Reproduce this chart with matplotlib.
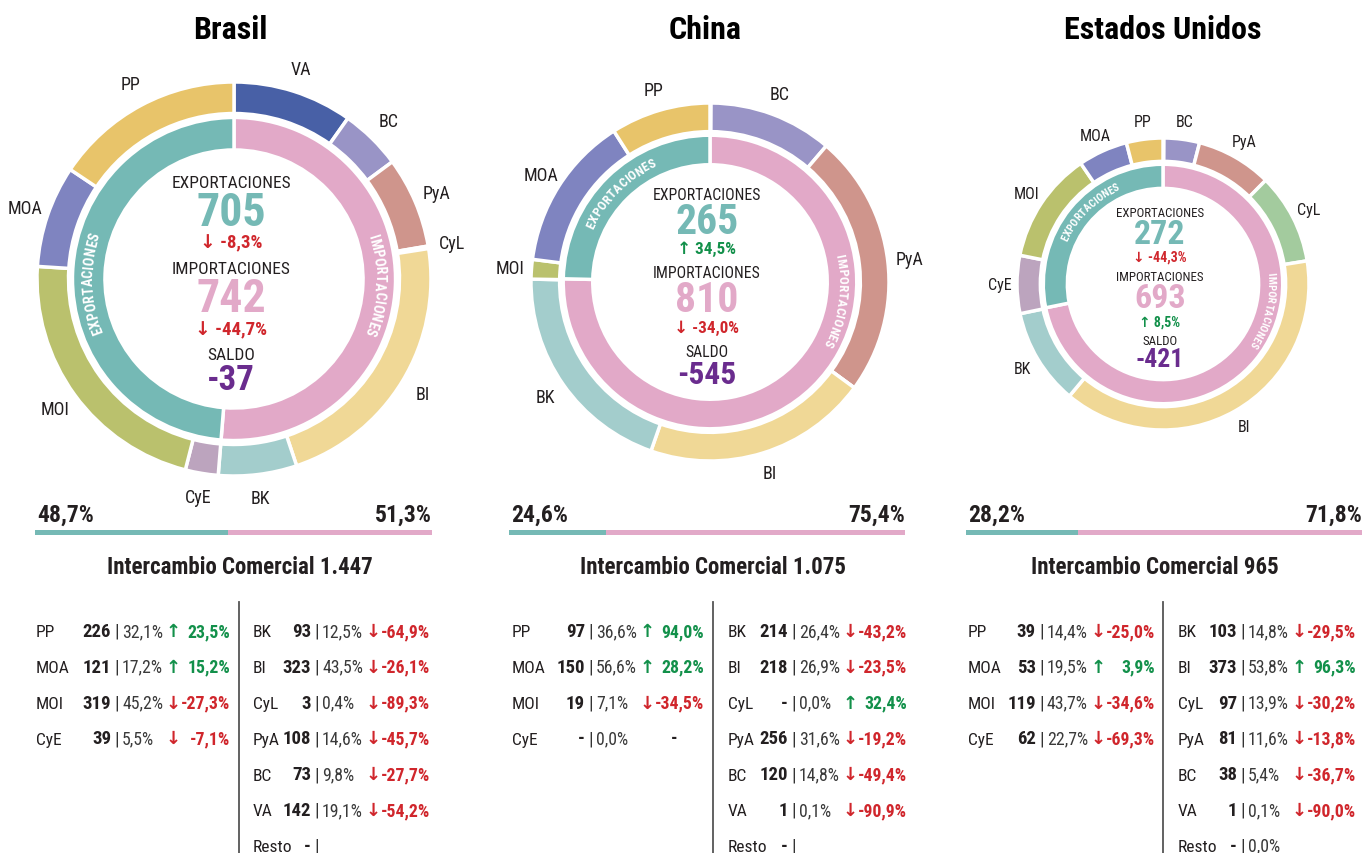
import matplotlib
matplotlib.use('Agg')
import matplotlib.pyplot as plt
from matplotlib import font_manager as fm
from matplotlib.font_manager import FontProperties
from matplotlib.textpath import text_to_path
import numpy as np

# ---------------- data ----------------
countries = ['Brasil', 'China', 'Estados Unidos']
exp_total = [705, 265, 272]
imp_total = [742, 810, 693]
exp_change = [-8.3, 34.5, -44.3]
imp_change = [-44.7, -34.0, 8.5]
saldo = [-37, -545, -421]
exp_share = [48.7, 24.6, 28.2]
imp_share = [51.3, 75.4, 71.8]
intercambio = ['1.447', '1.075', '965']

exp_cats = ['PP', 'MOA', 'MOI', 'CyE']
imp_cats = ['BK', 'BI', 'CyL', 'PyA', 'BC', 'VA', 'Resto']

NA = float('nan')   # shown as "-"
# Brasil
br_exp_val = [226, 121, 319, 39]
br_exp_pct = [32.1, 17.2, 45.2, 5.5]
br_exp_var = [23.5, 15.2, -27.3, -7.1]
br_imp_val = [93, 323, 3, 108, 73, 142, NA]
br_imp_pct = [12.5, 43.5, 0.4, 14.6, 9.8, 19.1, None]
br_imp_var = [-64.9, -26.1, -89.3, -45.7, -27.7, -54.2, None]
# China
cn_exp_val = [97, 150, 19, NA]
cn_exp_pct = [36.6, 56.6, 7.1, 0.0]
cn_exp_var = [94.0, 28.2, -34.5, NA]
cn_imp_val = [214, 218, NA, 256, 120, 1, NA]
cn_imp_pct = [26.4, 26.9, 0.0, 31.6, 14.8, 0.1, None]
cn_imp_var = [-43.2, -23.5, 32.4, -19.2, -49.4, -90.9, None]
# Estados Unidos
us_exp_val = [39, 53, 119, 62]
us_exp_pct = [14.4, 19.5, 43.7, 22.7]
us_exp_var = [-25.0, 3.9, -34.6, -69.3]
us_imp_val = [103, 373, 97, 81, 38, 1, NA]
us_imp_pct = [14.8, 53.8, 13.9, 11.6, 5.4, 0.1, 0.0]
us_imp_var = [-29.5, 96.3, -30.2, -13.8, -36.7, -90.0, None]

exp_vals = [br_exp_val, cn_exp_val, us_exp_val]
exp_pcts = [br_exp_pct, cn_exp_pct, us_exp_pct]
exp_vars = [br_exp_var, cn_exp_var, us_exp_var]
imp_vals = [br_imp_val, cn_imp_val, us_imp_val]
imp_pcts = [br_imp_pct, cn_imp_pct, us_imp_pct]
imp_vars = [br_imp_var, cn_imp_var, us_imp_var]

# ---------------- style ----------------
TEAL = '#75B9B5'
PINK = '#E2A9C8'
RED = '#D0262C'
GREEN = '#12904A'
PURPLE = '#6A2C8E'
DARK = '#231F20'
cat_colors = {'PP': '#E8C46A', 'MOA': '#7F84C0', 'MOI': '#BAC16D', 'CyE': '#BCA4BE',
              'VA': '#4860A6', 'BC': '#9994C6', 'PyA': '#CF958C', 'CyL': '#A3CB9E',
              'BI': '#F0D896', 'BK': '#A3CDCC'}

# pick a narrow font if one is installed
tt = fm.fontManager.ttflist


def has(name, st=None, bold=False):
    for f in tt:
        if f.name != name:
            continue
        if st is not None and f.stretch != st:
            continue
        if bold and not (str(f.weight) in ('bold', '700') or f.weight == 700):
            continue
        return True
    return False


MAIN, stretch, narrow = 'Roboto', 'normal', False
if has('Liberation Sans Narrow'):
    MAIN, narrow = 'Liberation Sans Narrow', True
elif has('Roboto Condensed'):
    MAIN, narrow = 'Roboto Condensed', True
elif has('DejaVu Sans Condensed'):
    MAIN, narrow = 'DejaVu Sans Condensed', True
else:
    for fam in ['Noto Sans', 'Open Sans', 'Roboto', 'DejaVu Sans', 'Lato', 'Inter']:
        if has(fam, 'condensed', bold=True):
            MAIN, stretch, narrow = fam, 'condensed', True
            break
plt.rcParams['font.family'] = [MAIN, 'DejaVu Sans']
plt.rcParams['font.stretch'] = stretch

W, H = 1365, 854


def Y(y):
    return H - y


def fmt(v):
    return f'{v:.1f}'.replace('.', ',')


# layout (pixels)
centers = [(234, 280), (710, 283), (1163, 285)]
radii = [197, 179, 146]
exp_txt_ang = [181.5, 135, 135]
imp_txt_ang = [-2, -8, -14]
title_x = [230, 705, 1163]
bar_x = [(35, 432), (509, 905), (966, 1362)]
inter_x = [240, 713, 1155]
tab_lx = [(36, 111), (512, 585), (968, 1036)]
tab_rx = [(253, 311), (728, 788), (1178, 1237)]
sep_x = [239, 713, 1163]

# font sizes (smaller when only a normal-width face is available)
k_w = 1.0 if narrow else 0.86
fs_lab = 12.5 * k_w
fs_val = 13.5 * k_w
fs_pct = 12.8 * (1.0 if narrow else 0.8)
fs_chg = 12.8 * (1.0 if narrow else 0.84)


def arc_text(ax, text, cx, cy, r, mid_deg, fs):
    fp = FontProperties(family=MAIN, stretch=stretch, size=fs, weight='bold')
    k = 100 / 72

    def wid(s):
        if not s:
            return 0.0
        return text_to_path.get_text_width_height_descent(s, fp, ismath=False)[0] * k

    track = 0.3
    total = wid(text) + track * (len(text) - 1)
    for i, ch in enumerate(text):
        s = wid(text[:i]) + wid(ch) / 2 + track * i
        ang = np.radians(mid_deg) + (total / 2 - s) / r
        ax.text(cx + r * np.cos(ang), cy + r * np.sin(ang), ch,
                rotation=np.degrees(ang) - 90, rotation_mode='anchor',
                ha='center', va='center', fontsize=fs, color='white',
                fontweight='bold')


def clean(v):
    return 0 if (v is None or np.isnan(v)) else v


def rows(ax, cats, vals, pcts, vars_, xl, xv, y0=632, dy=35.8):
    for j, cat in enumerate(cats):
        yy = Y(y0 + j * dy)
        ax.text(xl, yy - 1, cat, ha='left', va='center', fontsize=fs_lab, color=DARK)
        v = vals[j]
        vs = '-' if np.isnan(v) else f'{v:.0f}'
        ax.text(xv, yy, vs, ha='right', va='center', fontsize=fs_val,
                fontweight='bold', color=DARK)
        ax.text(xv + 6, yy, '|', ha='center', va='center', fontsize=14,
                color='#333333')
        p = pcts[j]
        if p is not None:
            ax.text(xv + 11, yy, fmt(p) + '%', ha='left', va='center',
                    fontsize=fs_pct, color='#3a3a3a')
        c = vars_[j]
        if c is None:
            continue
        if np.isnan(c):
            ax.text(xv + 89, yy, '-', ha='center', va='center', fontsize=fs_chg,
                    fontweight='bold', color=DARK)
            continue
        col = GREEN if c > 0 else RED
        ax.text(xv + 55, yy, '↑' if c > 0 else '↓', ha='left', va='center',
                fontsize=13, fontweight='bold', color=col,
                family=['DejaVu Sans'])
        ax.text(xv + 119, yy, fmt(c) + '%', ha='right', va='center',
                fontsize=fs_chg, fontweight='bold', color=col)


fig = plt.figure(figsize=(W / 100, H / 100), dpi=100)
ax = fig.add_axes([0, 0, 1, 1])

for i in range(3):
    cx, cy = centers[i][0], Y(centers[i][1])
    r = radii[i]
    s = r / 197

    # outer ring: imports (VA..BK) then exports (CyE..PP), clockwise from top
    imp_order = imp_cats[:6][::-1]
    imp_v = [clean(v) for v in imp_vals[i][:6]][::-1]
    exp_order = exp_cats[::-1]
    exp_v = [clean(v) for v in exp_vals[i]][::-1]
    cats = imp_order + exp_order
    vals = imp_v + exp_v
    labels = [c if v >= 2 else '' for c, v in zip(cats, vals)]
    _, texts = ax.pie(vals, radius=r, center=(cx, cy), startangle=90, counterclock=False,
                      colors=[cat_colors[c] for c in cats], labels=labels,
                      labeldistance=1.12,
                      wedgeprops=dict(width=r * 0.16, edgecolor='white', linewidth=2.5),
                      textprops=dict(fontsize=(13 if i < 2 else 11.5) * k_w, color=DARK))
    for t in texts:
        t.set_ha('center')

    # inner ring
    ax.pie([imp_total[i], exp_total[i]], radius=r * 0.82, center=(cx, cy), startangle=90,
           counterclock=False, colors=[PINK, TEAL],
           wedgeprops=dict(width=r * 0.165, edgecolor='white', linewidth=2.5))
    rm = r * (0.82 - 0.0825)
    afs = (9.8 * s + 0.4) * (1.0 if narrow else 0.9)
    arc_text(ax, 'EXPORTACIONES', cx, cy, rm, exp_txt_ang[i], afs)
    arc_text(ax, 'IMPORTACIONES', cx, cy, rm, imp_txt_ang[i], afs)

    # centre texts
    offs = np.array([-96, -67, -37, -10, 19, 50, 76, 101]) * s
    tx = cx - 3
    ax.text(tx, cy - offs[0], 'EXPORTACIONES', ha='center', va='center',
            fontsize=12.5 * s * k_w, color=DARK)
    ax.text(tx, cy - offs[1], str(exp_total[i]), ha='center', va='center',
            fontsize=33 * s, fontweight='bold', color=TEAL)
    c = exp_change[i]
    ax.text(tx, cy - offs[2], ('↑ ' if c > 0 else '↓ ') + fmt(c) + '%', ha='center',
            va='center', fontsize=13.5 * s, fontweight='bold',
            color=GREEN if c > 0 else RED)
    ax.text(tx, cy - offs[3], 'IMPORTACIONES', ha='center', va='center',
            fontsize=12.5 * s * k_w, color=DARK)
    ax.text(tx, cy - offs[4], str(imp_total[i]), ha='center', va='center',
            fontsize=33 * s, fontweight='bold', color=PINK)
    c = imp_change[i]
    ax.text(tx, cy - offs[5], ('↑ ' if c > 0 else '↓ ') + fmt(c) + '%', ha='center',
            va='center', fontsize=13.5 * s, fontweight='bold',
            color=GREEN if c > 0 else RED)
    ax.text(tx, cy - offs[6], 'SALDO', ha='center', va='center',
            fontsize=12.5 * s * k_w, color=DARK)
    ax.text(tx, cy - offs[7], str(saldo[i]), ha='center', va='center',
            fontsize=25 * s, fontweight='bold', color=PURPLE)

    # title
    ax.text(title_x[i], Y(30), countries[i], ha='center', va='center',
            fontsize=23, fontweight='bold', color='black')

    # share bar
    x0, x1 = bar_x[i]
    L = x1 - x0
    ax.barh(Y(533), exp_share[i] / 100 * L, left=x0, height=5, color=TEAL)
    ax.barh(Y(533), imp_share[i] / 100 * L, left=x0 + exp_share[i] / 100 * L,
            height=5, color=PINK)
    ax.text(x0 + 2, Y(515), fmt(exp_share[i]) + '%', ha='left', va='center',
            fontsize=17 * (1.0 if narrow else 0.88), fontweight='bold', color=DARK)
    ax.text(x1, Y(515), fmt(imp_share[i]) + '%', ha='right', va='center',
            fontsize=17 * (1.0 if narrow else 0.88), fontweight='bold', color=DARK)
    ax.text(inter_x[i], Y(567), 'Intercambio Comercial ' + intercambio[i],
            ha='center', va='center', fontsize=16.5 * (1.0 if narrow else 0.88),
            fontweight='bold', color=DARK)

    # tables
    rows(ax, exp_cats, exp_vals[i], exp_pcts[i], exp_vars[i], *tab_lx[i])
    rows(ax, imp_cats, imp_vals[i], imp_pcts[i], imp_vars[i], *tab_rx[i])
    ax.plot([sep_x[i], sep_x[i]], [Y(603), Y(854)], color='#555555', lw=1.3)

ax.set_xlim(0, W)
ax.set_ylim(0, H)
ax.set_aspect('equal')
ax.axis('off')
fig.savefig('out.png', dpi=100, facecolor='white')
